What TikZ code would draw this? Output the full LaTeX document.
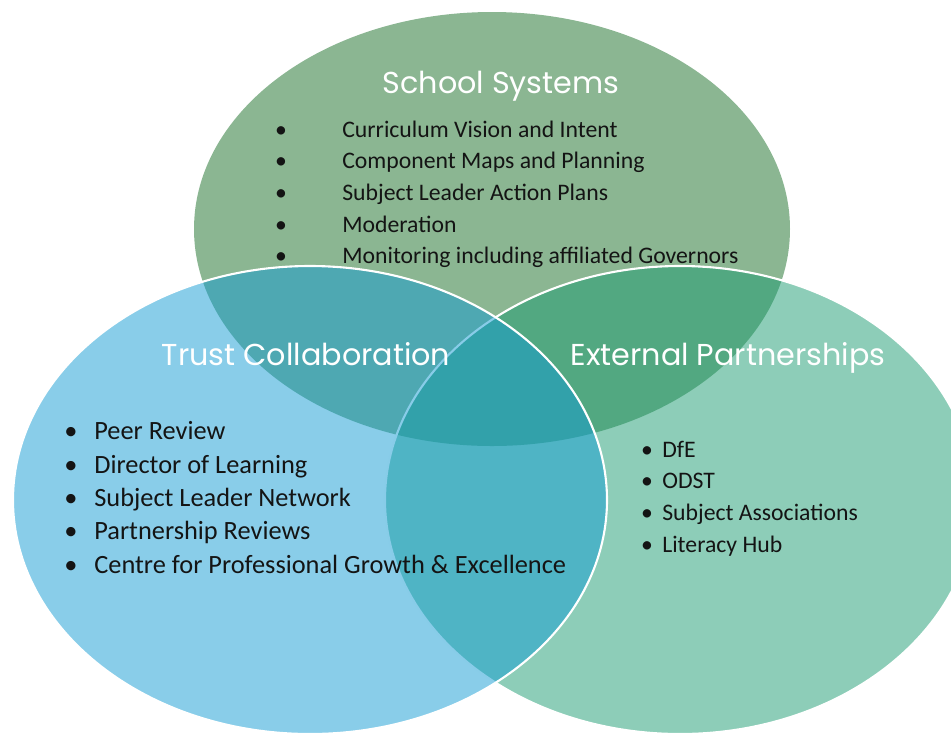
\documentclass[tikz,border=0pt]{standalone}
\usepackage{fontspec}
\setmainfont{Carlito}
\newfontfamily\headfont{Poppins}

\definecolor{schoolgreen}{RGB}{139,182,146}
\definecolor{trustblue}{RGB}{19,155,211}
\definecolor{partnerteal}{RGB}{27,155,113}
\definecolor{itemtext}{RGB}{20,20,20}

\begin{document}
\begin{tikzpicture}[x=0.02cm, y=-0.02cm,
  every node/.style={inner sep=0pt},
  heading/.style={anchor=base, text=white, font=\headfont\fontsize{17.2}{20}\selectfont},
  topitem/.style={anchor=base west, text=itemtext, font=\fontsize{13.5}{15}\selectfont},
  leftitem/.style={anchor=base west, text=itemtext, font=\fontsize{15}{17}\selectfont},
  topdot/.style={anchor=base, text=itemtext, font=\fontsize{13.5}{15}\selectfont},
  leftdot/.style={anchor=base, text=itemtext, font=\fontsize{15}{17}\selectfont}]
  \useasboundingbox (0,0) rectangle (951,735);
  \clip (0,0) rectangle (951,735);

  % Draw the three sets
  \fill[schoolgreen] (492,229) ellipse [x radius=298, y radius=217];
  \filldraw[fill=partnerteal, fill opacity=0.5, draw=white, line width=1.2pt]
    (680,500) ellipse [x radius=295, y radius=234];
  \filldraw[fill=trustblue, fill opacity=0.5, draw=white, line width=1.2pt]
    (310,500) ellipse [x radius=297, y radius=234];

  % Headings
  \node[heading] (school) at (501,93) {School Systems};
  \node[heading] (trust) at (306,365) {Trust Collaboration};
  \node[heading] (partners) at (728,365) {External Partnerships};

  % School Systems list
  \node[topitem] (ss1) at (342,137) {Curriculum Vision and Intent};
  \node[topitem] (ss2) at (342,168.5) {Component Maps and Planning};
  \node[topitem] (ss3) at (342,200) {Subject Leader Action Plans};
  \node[topitem] (ss4) at (342,232) {Moderation};
  \node[topitem] (ss5) at (342,263) {Monitoring including affiliated Governors};
  \node[topdot] (ssb1) at (281,137) {\textbullet};
  \node[topdot] (ssb2) at (281,168.5) {\textbullet};
  \node[topdot] (ssb3) at (281,200) {\textbullet};
  \node[topdot] (ssb4) at (281,232) {\textbullet};
  \node[topdot] (ssb5) at (281,263) {\textbullet};

  % Trust Collaboration list
  \node[leftitem] (tc1) at (94,439) {Peer Review};
  \node[leftitem] (tc2) at (94,473) {Director of Learning};
  \node[leftitem] (tc3) at (94,506) {Subject Leader Network};
  \node[leftitem] (tc4) at (94,539) {Partnership Reviews};
  \node[leftitem] (tc5) at (94,573) {Centre for Professional Growth \& Excellence};
  \node[leftdot] (tcb1) at (71,439) {\textbullet};
  \node[leftdot] (tcb2) at (71,473) {\textbullet};
  \node[leftdot] (tcb3) at (71,506) {\textbullet};
  \node[leftdot] (tcb4) at (71,539) {\textbullet};
  \node[leftdot] (tcb5) at (71,573) {\textbullet};

  % External Partnerships list
  \node[topitem] (ep1) at (662,457) {DfE};
  \node[topitem] (ep2) at (662,488) {ODST};
  \node[topitem] (ep3) at (662,520) {Subject Associations};
  \node[topitem] (ep4) at (662,552) {Literacy Hub};
  \node[topdot] (epb1) at (647,457) {\textbullet};
  \node[topdot] (epb2) at (647,488) {\textbullet};
  \node[topdot] (epb3) at (647,520) {\textbullet};
  \node[topdot] (epb4) at (647,552) {\textbullet};
\end{tikzpicture}
\end{document}
